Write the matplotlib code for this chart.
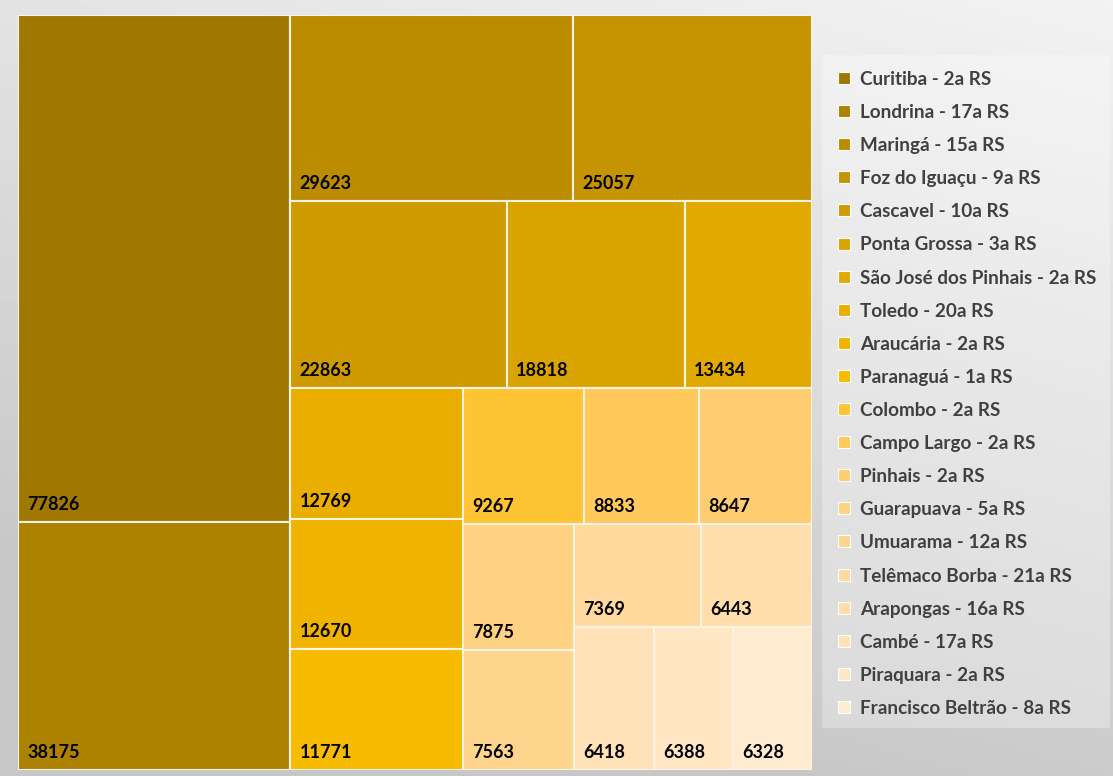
import numpy as np
import matplotlib.pyplot as plt
from matplotlib.patches import Rectangle

nomes = ['Curitiba - 2a RS', 'Londrina - 17a RS', 'Maringá - 15a RS', 'Foz do Iguaçu - 9a RS',
         'Cascavel - 10a RS', 'Ponta Grossa - 3a RS', 'São José dos Pinhais - 2a RS', 'Toledo - 20a RS',
         'Araucária - 2a RS', 'Paranaguá - 1a RS', 'Colombo - 2a RS', 'Campo Largo - 2a RS',
         'Pinhais - 2a RS', 'Guarapuava - 5a RS', 'Umuarama - 12a RS', 'Telêmaco Borba - 21a RS',
         'Arapongas - 16a RS', 'Cambé - 17a RS', 'Piraquara - 2a RS', 'Francisco Beltrão - 8a RS']
valores = [77826, 38175, 29623, 25057, 22863, 18818, 13434, 12769, 12670, 11771,
           9267, 8833, 8647, 7875, 7563, 7369, 6443, 6418, 6388, 6328]
cores = ['#a07800', '#ad8200', '#bb8c00', '#c59400', '#cf9b00', '#d9a300', '#e2aa00', '#e9ae00',
         '#f0b400', '#f7bb00', '#ffc433', '#ffc95c', '#ffcd70', '#ffd283', '#ffd58e', '#ffd99e',
         '#ffdeab', '#ffe2b7', '#ffe7c4', '#ffebd0']

W, H = 794.0, 755.0  # tamanho da area em pixels, para o algoritmo


def pior(linha, lado):
    s = sum(linha)
    return max(max(lado * lado * r / (s * s), s * s / (lado * lado * r)) for r in linha)


def squarify(areas, x, y, w, h):
    # areas ja normalizadas; y cresce para baixo
    rects = []
    areas = list(areas)
    while areas:
        lado = min(w, h)
        linha = [areas[0]]
        i = 1
        while i < len(areas) and pior(linha + [areas[i]], lado) <= pior(linha, lado):
            linha.append(areas[i])
            i += 1
        areas = areas[i:]
        s = sum(linha)
        if w >= h:
            # coluna na esquerda
            cw = s / h
            yy = y
            for a in linha:
                rh = a / cw
                rects.append((x, yy, cw, rh))
                yy += rh
            x += cw
            w -= cw
        else:
            # linha no topo
            rh = s / w
            xx = x
            for a in linha:
                rw = a / rh
                rects.append((xx, y, rw, rh))
                xx += rw
            y += rh
            h -= rh
    return rects


areas = np.array(valores) / sum(valores) * W * H
rects = squarify(areas, 0, 0, W, H)

plt.rcParams['font.family'] = ['Lato', 'DejaVu Sans']
fig = plt.figure(figsize=(11.13, 7.76), dpi=100)

# fundo em degrade
bg = fig.add_axes([0, 0, 1, 1])
yy, xx = np.mgrid[0:1:200j, 0:1:300j]
grad = 0.78 + 0.17 * np.clip(1 - 0.9 * yy - 0.35 * (1 - xx), 0, 1)
bg.imshow(grad, cmap='gray', vmin=0, vmax=1, extent=[0, 1, 0, 1], aspect='auto', origin='upper')
bg.axis('off')
bg.add_patch(Rectangle((822 / 1113, 1 - 728 / 776), 288 / 1113, 673 / 776,
                       facecolor='white', alpha=0.3, edgecolor='none', transform=bg.transAxes))

ax = fig.add_axes([18 / 1113, 6 / 776, W / 1113, H / 776])
for (x, y, w, h), v, c in zip(rects, valores, cores):
    ax.add_patch(Rectangle((x, y), w, h, facecolor=c, edgecolor='#fbf3e6', linewidth=1.5))
    ax.text(x + 9, y + h - 12, str(v), fontsize=13, fontweight='bold', color='black',
            ha='left', va='baseline')
ax.set_xlim(0, W)
ax.set_ylim(H, 0)
ax.axis('off')

# legenda
for i, (n, c) in enumerate(zip(nomes, cores)):
    yc = 78 + i * 33.1
    fig.patches.append(Rectangle((838 / 1113, 1 - (yc + 6) / 776), 12 / 1113, 12 / 776,
                                 facecolor=c, edgecolor='white', linewidth=0.8,
                                 transform=fig.transFigure, figure=fig))
    fig.text(860 / 1113, 1 - (yc + 1.5) / 776, n, fontsize=13.6, fontweight='bold', color='#404040',
             ha='left', va='center')

fig.savefig('out.png', dpi=100)
